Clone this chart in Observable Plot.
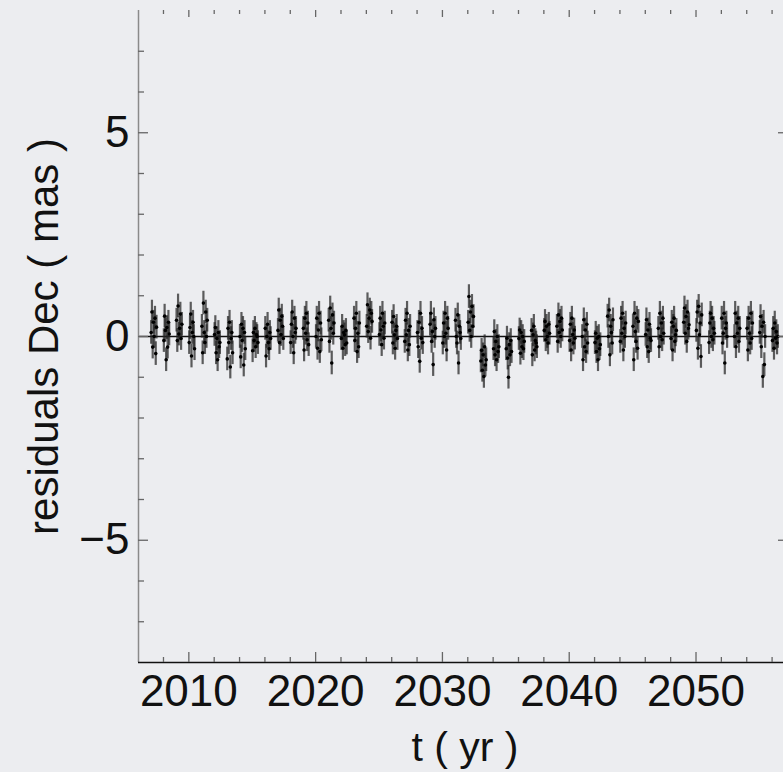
<!DOCTYPE html>
<html>
<head>
<meta charset="utf-8">
<script src="https://cdn.jsdelivr.net/npm/d3@7"></script>
<script src="https://cdn.jsdelivr.net/npm/@observablehq/plot@0.6"></script>
<style>
  html, body { margin: 0; padding: 0; background: #ecedf0; }
  #chart svg { display: block; }
</style>
</head>
<body>
<div id="chart"></div>
<script>
// Observing seasons (start of each yearly campaign, yr)
const seasonYears = [
  2007, 2008, 2009, 2010, 2011, 2012, 2013, 2014, 2015, 2016,
  2017, 2018, 2019, 2020, 2021, 2022, 2023, 2024, 2025, 2026,
  2027, 2028, 2029, 2030, 2031, 2032, 2033, 2034, 2035, 2036,
  2037, 2038, 2039, 2040, 2041, 2042, 2043, 2044, 2045, 2046,
  2047, 2048, 2049, 2050, 2051, 2052, 2053, 2054, 2055, 2056
];

// Epoch of each measurement within a season (yr after season start)
const seasonOffsets = [0.03, 0.09, 0.15, 0.21, 0.27, 0.33, 0.39, 0.45];

// Dec residuals (mas), one row per season, one entry per epoch
const decResiduals = [
  [0.10, 0.60, -0.26, 0.35, 0.00, 0.45, -0.42, 0.23],
  [-0.10, 0.50, 0.15, -0.57, 0.22, -0.26, 0.35, 0.06],
  [0.40, -0.10, 0.75, 0.06, 0.20, 0.55, -0.05, 0.30],
  [-0.15, 0.22, 0.55, -0.48, 0.10, 0.35, 0.00, -0.30],
  [0.25, -0.40, 0.82, 0.10, -0.15, 0.60, 0.00, 0.40],
  [0.05, 0.22, -0.40, -0.05, -0.57, 0.10, -0.25, -0.15],
  [-0.55, 0.20, -0.15, 0.35, -0.75, -0.05, 0.10, -0.40],
  [0.00, -0.50, 0.30, -0.10, 0.20, -0.70, 0.10, -0.30],
  [-0.35, 0.10, -0.10, 0.20, -0.25, 0.05, 0.00, -0.15],
  [0.20, -0.48, 0.00, 0.30, -0.15, -0.30, 0.10, -0.05],
  [0.15, 0.65, -0.15, 0.40, 0.05, 0.50, 0.25, -0.05],
  [-0.15, 0.30, 0.60, 0.00, -0.40, 0.45, 0.10, 0.20],
  [0.20, -0.33, 0.45, 0.08, 0.57, -0.08, 0.33, -0.20],
  [0.00, 0.45, -0.29, 0.16, 0.57, -0.37, 0.33, -0.08],
  [0.40, -0.12, 0.70, 0.20, -0.65, 0.53, 0.08, 0.33],
  [-0.05, 0.25, -0.29, 0.10, 0.04, -0.20, 0.15, -0.16],
  [0.45, -0.10, 0.20, 0.57, -0.37, 0.08, -0.25, 0.33],
  [0.25, 0.78, 0.12, 0.45, 0.65, -0.04, 0.57, 0.37],
  [0.05, 0.45, 0.16, -0.20, 0.57, 0.25, -0.04, 0.33],
  [0.35, -0.16, 0.49, 0.04, -0.29, 0.15, 0.25, -0.05],
  [-0.12, 0.40, 0.04, 0.57, -0.33, 0.15, -0.20, 0.25],
  [0.10, -0.25, 0.35, -0.61, 0.57, -0.04, 0.20, -0.15],
  [0.30, 0.57, -0.12, 0.12, -0.69, 0.41, 0.00, 0.20],
  [-0.16, 0.33, 0.00, 0.57, 0.08, -0.33, 0.45, 0.20],
  [0.40, 0.00, -0.16, 0.53, -0.65, 0.25, 0.10, -0.05],
  [0.35, 0.98, 0.15, 0.60, 0.00, 0.74, 0.25, 0.49],
  [-0.60, -0.34, -0.83, -0.45, -0.98, -0.25, -0.70, -0.57],
  [-0.30, 0.12, -0.45, -0.12, -0.57, 0.00, -0.37, -0.25],
  [-0.30, -0.04, -0.53, -1.00, -0.20, -0.45, -0.10, -0.37],
  [-0.05, 0.16, -0.41, 0.10, -0.25, 0.00, -0.30, -0.12],
  [0.15, -0.45, 0.04, 0.25, -0.33, -0.10, -0.16, -0.25],
  [0.15, 0.37, -0.08, 0.25, 0.00, -0.16, 0.30, 0.08],
  [0.25, -0.12, 0.53, 0.10, 0.37, 0.00, 0.45, 0.16],
  [-0.10, 0.30, -0.33, 0.45, 0.05, -0.16, 0.16, -0.04],
  [0.00, -0.57, 0.41, -0.25, 0.16, -0.37, 0.30, -0.16],
  [-0.15, 0.08, -0.37, -0.04, -0.57, 0.00, -0.30, -0.20],
  [0.50, 0.00, 0.65, -0.45, 0.25, 0.10, -0.16, 0.41],
  [-0.12, 0.45, 0.08, 0.57, -0.33, 0.20, 0.00, 0.33],
  [0.25, -0.57, 0.57, 0.12, -0.12, 0.45, -0.29, 0.37],
  [0.05, 0.41, -0.25, 0.16, -0.37, 0.30, -0.04, -0.10],
  [0.20, -0.25, 0.57, 0.00, 0.33, -0.08, 0.45, 0.08],
  [-0.05, 0.35, -0.33, 0.25, 0.45, -0.12, 0.04, 0.15],
  [0.35, 0.70, 0.08, 0.49, -0.12, 0.60, 0.20, 0.29],
  [0.15, 0.60, -0.29, 0.74, 0.04, 0.33, -0.49, 0.53],
  [-0.15, 0.33, 0.57, 0.00, 0.45, -0.08, 0.20, 0.08],
  [0.45, -0.16, 0.08, 0.57, -0.65, 0.20, 0.33, 0.00],
  [0.00, 0.57, -0.25, 0.33, 0.08, 0.45, -0.12, 0.20],
  [0.20, -0.33, 0.45, 0.08, -0.16, 0.57, -0.05, 0.33],
  [0.10, 0.49, -0.25, 0.25, -0.98, 0.35, -0.69, 0.00],
  [-0.10, 0.20, -0.29, 0.33, -0.04, 0.12, -0.16, 0.00]
];

// 1-sigma measurement uncertainty (mas)
const decSigma = 0.29;

// Axis ticks
const xMajorTicks = [2010, 2020, 2030, 2040, 2050];
const xMinorTicks = [2008, 2012, 2014, 2016, 2018, 2022, 2024, 2026, 2028,
                     2032, 2034, 2036, 2038, 2042, 2044, 2046, 2048, 2052, 2054, 2056];
const yMajorTicks = [-5, 0, 5];
const yMinorTicks = [-7, -6, -4, -3, -2, -1, 1, 2, 3, 4, 6, 7];

const xDomain = [2006.03, 2056.9];
const yDomain = [-8, 8];

const width = 783, height = 772;
const margin = {top: 10, right: 0, bottom: 110, left: 138};
const frameW = width - margin.left - margin.right;
const frameH = height - margin.top - margin.bottom;

const observations = seasonYears.flatMap((yr, i) =>
  decResiduals[i].map((v, j) => ({t: yr + seasonOffsets[j], dec: v}))
);

const font = "'Liberation Sans', Helvetica, Arial, sans-serif";
const tickColor = "#666";

const chart = Plot.plot({
  width, height,
  marginTop: margin.top, marginRight: margin.right,
  marginBottom: margin.bottom, marginLeft: margin.left,
  style: {fontFamily: font, background: "#ecedf0", color: "#111", overflow: "visible"},
  x: {domain: xDomain},
  y: {domain: yDomain},
  marks: [
    // zero reference line
    Plot.ruleY([0], {stroke: "#111", strokeWidth: 1.4}),
    // error bars and measurements
    Plot.ruleX(observations, {
      x: "t", y1: d => d.dec - decSigma, y2: d => d.dec + decSigma,
      stroke: "#222", strokeOpacity: 0.72, strokeWidth: 2.2
    }),
    Plot.dot(observations, {x: "t", y: "dec", r: 1.8, fill: "#000", stroke: "none"}),
    // frame: left and bottom lines
    Plot.ruleX([xDomain[0]], {stroke: "#8a8a8a", strokeWidth: 1.5}),
    Plot.ruleY([yDomain[0]], {stroke: "#111", strokeWidth: 1.4}),
    // inward ticks: bottom
    Plot.tickX(xMajorTicks, {x: d => d, insetTop: frameH - 10, stroke: tickColor, strokeWidth: 1.3}),
    Plot.tickX(xMinorTicks, {x: d => d, insetTop: frameH - 5, stroke: tickColor, strokeWidth: 1.3}),
    // inward ticks: top
    Plot.tickX(xMajorTicks, {x: d => d, insetBottom: frameH - 7, stroke: tickColor, strokeWidth: 1.3}),
    Plot.tickX(xMinorTicks, {x: d => d, insetBottom: frameH - 4, stroke: tickColor, strokeWidth: 1.3}),
    // inward ticks: left
    Plot.tickY(yMajorTicks, {y: d => d, insetRight: frameW - 10, stroke: tickColor, strokeWidth: 1.3}),
    Plot.tickY(yMinorTicks, {y: d => d, insetRight: frameW - 6, stroke: tickColor, strokeWidth: 1.3}),
    // inward ticks: right
    Plot.tickY(yMajorTicks, {y: d => d, insetLeft: frameW - 5, stroke: tickColor, strokeWidth: 1.3}),
    // tick labels
    Plot.axisX(xMajorTicks, {
      tickSize: 0, tickPadding: 12, fontSize: 44, label: null,
      tickFormat: d => String(d), fill: "#111"
    }),
    Plot.axisY(yMajorTicks, {
      tickSize: 0, tickPadding: 9, fontSize: 44, label: null, fill: "#111"
    }),
    // axis titles
    Plot.text(["t ( yr )"], {
      text: d => d, frameAnchor: "bottom", dx: 4, dy: 98,
      lineAnchor: "bottom", textAnchor: "middle", fontSize: 41, fill: "#111"
    }),
    Plot.text(["residuals Dec ( mas )"], {
      text: d => d, frameAnchor: "left", dx: -94, dy: 0, rotate: -90,
      lineAnchor: "middle", textAnchor: "middle", fontSize: 42, fill: "#111"
    })
  ]
});

document.getElementById("chart").appendChild(chart);
</script>
</body>
</html>
